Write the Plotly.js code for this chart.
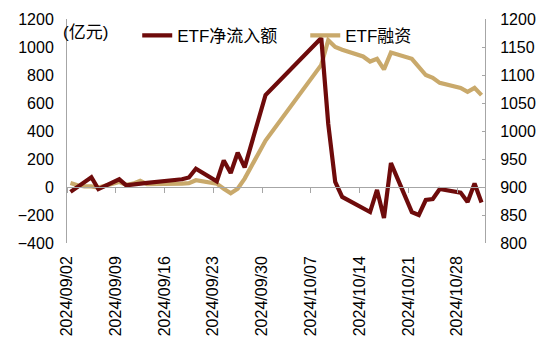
<!DOCTYPE html>
<html>
<head>
<meta charset="utf-8">
<script src="https://cdn.plot.ly/plotly-3.0.1.min.js"></script>
<style>html,body{margin:0;padding:0;background:#fff;}#chart{width:550px;height:354px;}</style>
</head>
<body>
<div id="chart"></div>
<script>
var dates = ["2024-09-02","2024-09-03","2024-09-04","2024-09-05","2024-09-06",
  "2024-09-09","2024-09-10","2024-09-11","2024-09-12","2024-09-13",
  "2024-09-18","2024-09-19","2024-09-20",
  "2024-09-23","2024-09-24","2024-09-25","2024-09-26","2024-09-27",
  "2024-09-30",
  "2024-10-08","2024-10-09","2024-10-10","2024-10-11",
  "2024-10-14","2024-10-15","2024-10-16","2024-10-17","2024-10-18",
  "2024-10-21","2024-10-22","2024-10-23","2024-10-24","2024-10-25",
  "2024-10-28","2024-10-29","2024-10-30","2024-10-31"];
var netInflow = [-35,0,35,70,-15,
  55,12,20,25,30,
  55,68,130,
  40,190,100,245,140,
  657,
  1064,450,36,-71,
  -150,-179,-21,-221,171,
  -179,-200,-93,-86,-14,
  -40,-107,25,-110];
var etfMargin = [907,903,901,901,899,
  909,904,906,911,905,
  906,907,912,
  906,897,889,897,915,
  983,
  1118,1162,1150,1145,
  1133,1124,1129,1110,1140,
  1129,1113,1100,1095,1086,
  1077,1070,1077,1064];
var seriesNames = ["ETF净流入额","ETF融资"];
var unitLabel = "(亿元)";

// points sit in the middle of each day (date axis, between tick marks)
var xs = dates.map(function(d){ return d + " 12:00"; });

var FONT = "Liberation Sans, Arial, Noto Sans CJK SC, sans-serif";
var red = "#6e0b0b", tan = "#c9a96b";

var traces = [
  {x: xs, y: netInflow, name: seriesNames[0], type: "scatter", mode: "lines",
   xaxis: "x2", yaxis: "y", legend: "legend", line: {color: red, width: 4.2}},
  {x: xs, y: etfMargin, name: seriesNames[1], type: "scatter", mode: "lines",
   xaxis: "x", yaxis: "y2", legend: "legend2", line: {color: tan, width: 4.2}}
];

var legFont = {family: FONT, size: 17, color: "#000"};
var tickFont = {family: FONT, size: 16, color: "#000"};
var xrange = ["2024-09-02", "2024-11-01"];
var layout = {
  width: 550, height: 354,
  margin: {l: 67, r: 65, t: 19, b: 111},
  paper_bgcolor: "#fff", plot_bgcolor: "rgba(0,0,0,0)",
  font: {family: FONT, size: 16, color: "#000"},
  showlegend: true,
  legend: {orientation: "h", x: 0.168, y: 1.005, xanchor: "left", yanchor: "top",
    bgcolor: "rgba(0,0,0,0)", font: legFont},
  legend2: {orientation: "h", x: 0.57, y: 1.005, xanchor: "left", yanchor: "top",
    bgcolor: "rgba(0,0,0,0)", font: legFont},
  xaxis: {type: "date", range: xrange, tick0: "2024-09-02", dtick: 7*86400000,
    tickformat: "%Y/%m/%d", tickangle: -90, showline: false, ticks: "",
    showgrid: false, zeroline: false, anchor: "y", ticklabelstandoff: 9,
    tickfont: tickFont},
  xaxis2: {type: "date", range: xrange, tick0: "2024-09-02", dtick: 7*86400000,
    overlaying: "x", anchor: "free", position: 0.25, side: "bottom",
    showticklabels: false, showline: true, linecolor: "#a6a6a6", linewidth: 1,
    ticks: "outside", ticklen: 5, tickcolor: "#a6a6a6", showgrid: false, zeroline: false},
  yaxis: {range: [-400, 1200], dtick: 200, showline: true, linecolor: "#a6a6a6",
    linewidth: 1, ticks: "", showgrid: false, zeroline: false, ticklabelstandoff: 9,
    tickfont: tickFont},
  yaxis2: {range: [800, 1200], dtick: 50, overlaying: "y", side: "right", anchor: "x",
    showline: true, linecolor: "#a6a6a6", linewidth: 1, ticks: "inside", ticklen: 3,
    tickcolor: "#a6a6a6", showgrid: false, zeroline: false, ticklabelstandoff: 11,
    tickfont: tickFont},
  annotations: [{text: unitLabel, xref: "paper", yref: "paper", x: 0, y: 0.94,
    xanchor: "left", yanchor: "middle", xshift: -6, showarrow: false,
    font: legFont}]
};

Plotly.newPlot("chart", traces, layout, {displayModeBar: false, staticPlot: true});
</script>
</body>
</html>
